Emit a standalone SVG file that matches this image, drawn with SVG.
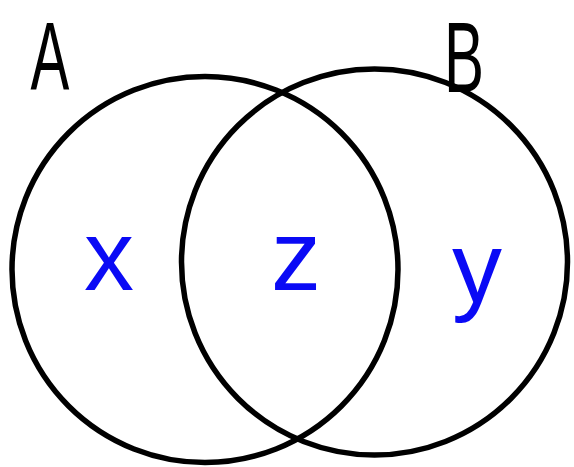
<svg xmlns="http://www.w3.org/2000/svg" width="574" height="467" viewBox="0 0 574 467">
<style>
.set{fill:none;stroke:#000;stroke-width:5.5}
.lbl{font-family:"Liberation Sans",Arial,sans-serif;fill:#000;text-anchor:middle}
.var{font-family:"Liberation Sans",Arial,sans-serif;fill:#0a0af5;text-anchor:middle;font-size:100px}
</style>
<rect width="574" height="467" fill="#fff"/>
<g id="setA">
<circle class="set" cx="205" cy="269.5" r="193"/>
<text class="lbl" font-size="97" transform="translate(50,89) scale(0.6,1)">A</text>
</g>
<g id="setB">
<circle class="set" cx="374.5" cy="262" r="193"/>
<text class="lbl" font-size="100" transform="translate(464,92) scale(0.6,1)">B</text>
</g>
<g id="onlyA"><text class="var" x="109" y="290" font-size="105">x</text></g>
<g id="both"><text class="var" x="296" y="290" font-size="108">z</text></g>
<g id="onlyB"><text class="var" x="477" y="302" font-size="112">y</text></g>
<g id="connectors"></g>
</svg>
